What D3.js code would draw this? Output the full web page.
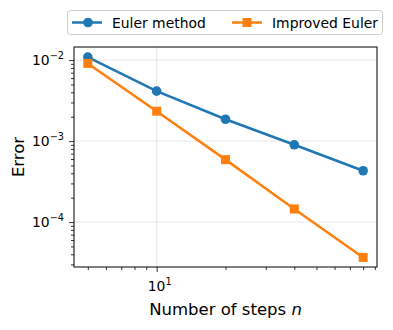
<!DOCTYPE html>
<html><head><meta charset="utf-8">
<script src="https://cdn.jsdelivr.net/npm/d3@7"></script>
<style>body{margin:0;background:#fff}svg text{font-family:"DejaVu Sans",sans-serif}</style>
</head><body><svg id="c" width="393" height="330"></svg>
<script>
const steps = [5, 10, 20, 40, 80];
const eulerErr = [1.09e-2, 4.14e-3, 1.86e-3, 9.0e-4, 4.3e-4];
const improvedErr = [9.1e-3, 2.34e-3, 5.9e-4, 1.45e-4, 3.66e-5];
const seriesNames = ["Euler method", "Improved Euler"];
const yTickVals = [1e-4, 1e-3, 1e-2];
const yTickExp = ["−4", "−3", "−2"];
const xTickVals = [10];
const xTickExp = ["1"];

const svg = d3.select("#c");
const L = 74, R = 377, T = 47, B = 267;
const x = d3.scaleLog().domain([4.35, 92.0]).range([L, R]);
const y = d3.scaleLog().domain([10 ** -4.555, 10 ** -1.838]).range([B, T]);

// grid
const g = svg.append("g");
yTickVals.forEach(v => g.append("line").attr("x1", L).attr("x2", R).attr("y1", y(v)).attr("y2", y(v))
  .attr("stroke", "#b0b0b0").attr("stroke-opacity", 0.35).attr("stroke-width", 0.8));
xTickVals.forEach(v => g.append("line").attr("y1", T).attr("y2", B).attr("x1", x(v)).attr("x2", x(v))
  .attr("stroke", "#b0b0b0").attr("stroke-opacity", 0.35).attr("stroke-width", 0.8));

// axes
const xMinor = [5,6,7,8,9,20,30,40,50,60,70,80,90];
const yMinor = [];
for (let e = -5; e <= -2; e++) for (let m = 2; m <= 9; m++) { const v = m * 10 ** e; if (v >= y.domain()[0] && v <= y.domain()[1]) yMinor.push(v); }
const xAxMajor = d3.axisBottom(x).tickValues(xTickVals).tickSize(5).tickFormat("");
const xAxMinor = d3.axisBottom(x).tickValues(xMinor).tickSize(3).tickFormat("");
const yAxMajor = d3.axisLeft(y).tickValues(yTickVals).tickSize(5).tickFormat("");
const yAxMinor = d3.axisLeft(y).tickValues(yMinor).tickSize(3).tickFormat("");
[[xAxMajor,"x"],[xAxMinor,"x"],[yAxMajor,"y"],[yAxMinor,"y"]].forEach(([ax,t]) => {
  const a = svg.append("g").attr("transform", t === "x" ? `translate(0,${B})` : `translate(${L},0)`).call(ax);
  a.select(".domain").remove();
  a.selectAll("line").attr("stroke", "#000").attr("stroke-width", 0.8);
});
// tick labels
yTickVals.forEach((v, i) => {
  const t = svg.append("text").attr("x", 64).attr("y", y(v) + 5).attr("text-anchor", "end").attr("font-size", 13.9).attr("fill", "#000");
  t.append("tspan").text("10");
  t.append("tspan").attr("font-size", 9.7).attr("dy", -6.5).text(yTickExp[i]);
});
xTickVals.forEach((v, i) => {
  const t = svg.append("text").attr("x", x(v) + 3).attr("y", B + 24).attr("text-anchor", "middle").attr("font-size", 13.9).attr("fill", "#000");
  t.append("tspan").text("10");
  t.append("tspan").attr("font-size", 9.7).attr("dy", -6.5).text(xTickExp[i]);
});

// frame
svg.append("rect").attr("x", L).attr("y", T).attr("width", R - L).attr("height", B - T)
  .attr("fill", "none").attr("stroke", "#000").attr("stroke-width", 1);

// series
const colors = ["#1f77b4", "#ff7f0e"];
const data = [eulerErr, improvedErr];
const line = d3.line().x(d => x(d[0])).y(d => y(d[1]));
data.forEach((vals, si) => {
  const pts = steps.map((s, i) => [s, vals[i]]);
  svg.append("path").attr("d", line(pts)).attr("fill", "none").attr("stroke", colors[si]).attr("stroke-width", 2.5);
  pts.forEach(p => {
    if (si === 0) svg.append("circle").attr("cx", x(p[0])).attr("cy", y(p[1])).attr("r", 4.8).attr("fill", colors[si]);
    else svg.append("rect").attr("x", x(p[0]) - 4.5).attr("y", y(p[1]) - 4.5).attr("width", 9).attr("height", 9).attr("fill", colors[si]);
  });
});

// axis labels
svg.append("text").attr("x", (L + R) / 2).attr("y", 315).attr("text-anchor", "middle").attr("font-size", 16.5).attr("fill", "#000")
  .html('Number of steps <tspan font-style="italic">n</tspan>');
svg.append("text").attr("transform", `translate(24,${(T + B) / 2}) rotate(-90)`).attr("text-anchor", "middle").attr("font-size", 16.5).attr("fill", "#000").text("Error");

// legend
svg.append("rect").attr("x", 67.5).attr("y", 10.5).attr("width", 315).attr("height", 24).attr("rx", 3)
  .attr("fill", "#fff").attr("stroke", "#d0d0d0").attr("stroke-width", 1);
const legX = [72, 232];
seriesNames.forEach((n, i) => {
  const lx = legX[i], ly = 22.5;
  svg.append("line").attr("x1", lx).attr("x2", lx + 30).attr("y1", ly).attr("y2", ly).attr("stroke", colors[i]).attr("stroke-width", 2.5);
  if (i === 0) svg.append("circle").attr("cx", lx + 16).attr("cy", ly).attr("r", 4.8).attr("fill", colors[i]);
  else svg.append("rect").attr("x", lx + 15 - 4.5).attr("y", ly - 4.5).attr("width", 9).attr("height", 9).attr("fill", colors[i]);
  svg.append("text").attr("x", lx + 40).attr("y", ly + 5).attr("font-size", 13.9).attr("fill", "#000").text(n);
});
</script></body></html>
